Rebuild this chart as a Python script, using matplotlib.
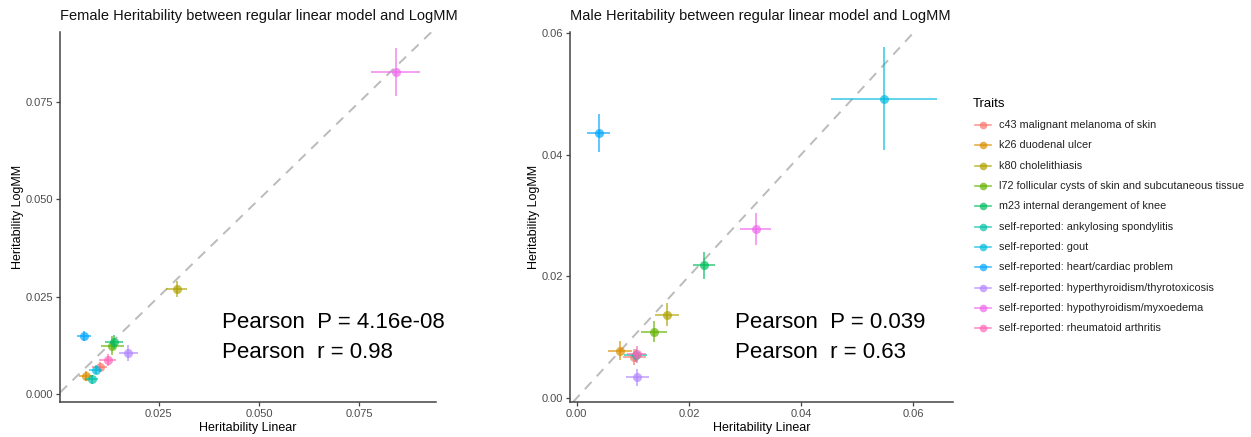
import matplotlib
matplotlib.use("Agg")
import matplotlib.pyplot as plt
from matplotlib.lines import Line2D

plt.rcParams['font.family'] = ['Liberation Sans', 'DejaVu Sans']

traits = ["c43 malignant melanoma of skin", "k26 duodenal ulcer", "k80 cholelithiasis",
          "l72 follicular cysts of skin and subcutaneous tissue", "m23 internal derangement of knee",
          "self-reported: ankylosing spondylitis", "self-reported: gout",
          "self-reported: heart/cardiac problem", "self-reported: hyperthyroidism/thyrotoxicosis",
          "self-reported: hypothyroidism/myxoedema", "self-reported: rheumatoid arthritis"]
colors = ["#F8766D", "#DB8E00", "#AEA200", "#64B200", "#00BD5C", "#00C1A7",
          "#00BADE", "#00A6FF", "#B385FF", "#EF67EB", "#FF63B6"]

# Female
f_lin = [0.0103, 0.0069, 0.0295, 0.0135, 0.0139, 0.0083, 0.0093, 0.0064, 0.0175, 0.0841, 0.0123]
f_log = [0.0070, 0.0046, 0.0270, 0.0125, 0.0133, 0.0038, 0.0063, 0.0150, 0.0106, 0.0827, 0.0088]
f_lin_se = [0.0018, 0.0017, 0.0027, 0.0028, 0.0022, 0.0016, 0.0017, 0.0018, 0.0024, 0.0061, 0.0022]
f_log_se = [0.0012, 0.0013, 0.0020, 0.0025, 0.0018, 0.0012, 0.0012, 0.0013, 0.0020, 0.0062, 0.0015]

# Male
m_lin = [0.0103, 0.0077, 0.0161, 0.01375, 0.0227, 0.0105, 0.0548, 0.0039, 0.0108, 0.0319, 0.0107]
m_log = [0.0068, 0.0078, 0.0137, 0.0109, 0.0218, 0.0070, 0.0492, 0.0435, 0.0034, 0.0278, 0.0072]
m_lin_se = [0.0020, 0.0021, 0.0021, 0.0023, 0.0019, 0.0021, 0.0094, 0.0021, 0.0021, 0.0028, 0.0017]
m_log_se = [0.0013, 0.0015, 0.0019, 0.00175, 0.0022, 0.0011, 0.0085, 0.0031, 0.0014, 0.0026, 0.0014]

W, H = 1251, 437
fig = plt.figure(figsize=(W / 100, H / 100), dpi=100)

def fx(px):
    return px / W

def fy(py):
    return 1 - py / H

def make_panel(left, right, top, bottom, xs, ys, xe, ye, xlim, ylim, xticks, xlabels, yticks, ylabels,
               title, stat1, stat2, stat_x, ylab_x):
    ax = fig.add_axes([fx(left), fy(bottom), fx(right - left), (bottom - top) / H])
    for i in range(len(traits)):
        ax.errorbar(xs[i], ys[i], xerr=xe[i], yerr=ye[i], fmt='o', color=colors[i], alpha=0.7,
                    ms=6.5, mew=0, elinewidth=1.25, capsize=2.6, capthick=1.25, zorder=3 + i)
    ax.axline((0, 0), slope=1, color='#BBBBBB', lw=1.4, ls=(0, (5, 4)), zorder=2)
    ax.set_xlim(*xlim)
    ax.set_ylim(*ylim)
    ax.set_xticks(xticks)
    ax.set_xticklabels(xlabels)
    ax.set_yticks(yticks)
    ax.set_yticklabels(ylabels)
    for s in ['top', 'right']:
        ax.spines[s].set_visible(False)
    for s in ['left', 'bottom']:
        ax.spines[s].set_color('#444444')
        ax.spines[s].set_linewidth(1.1)
    ax.tick_params(axis='both', colors='#444444', labelcolor='#4D4D4D', labelsize=8, length=3, width=0.9, pad=2)
    fig.text(fx(left), fy(16), title, fontsize=10.5, ha='left', va='center', color='#111111')
    fig.text(fx((left + right) / 2), fy(428), "Heritability Linear", fontsize=9, ha='center', va='center')
    fig.text(fx(ylab_x), fy((top + bottom) / 2), "Heritability LogMM", fontsize=9, ha='center', va='center',
             rotation=90)
    fig.text(fx(stat_x), fy(323), stat1, fontsize=16, ha='left', va='center', color='black')
    fig.text(fx(stat_x), fy(352), stat2, fontsize=16, ha='left', va='center', color='black')
    return ax

make_panel(60, 436, 32, 402, f_lin, f_log, f_lin_se, f_log_se,
           (0.00045, 0.0941), (-0.00198, 0.09297),
           [0.025, 0.05, 0.075], ["0.025", "0.050", "0.075"],
           [0.0, 0.025, 0.05, 0.075], ["0.000", "0.025", "0.050", "0.075"],
           "Female Heritability between regular linear model and LogMM",
           "Pearson  P = 4.16e-08", "Pearson  r = 0.98", 221.5, 17.7)

make_panel(570, 953, 32, 402, m_lin, m_log, m_lin_se, m_log_se,
           (-0.0012, 0.0671), (-0.00066, 0.06016),
           [0.0, 0.02, 0.04, 0.06], ["0.00", "0.02", "0.04", "0.06"],
           [0.0, 0.02, 0.04, 0.06], ["0.00", "0.02", "0.04", "0.06"],
           "Male Heritability between regular linear model and LogMM",
           "Pearson  P = 0.039", "Pearson  r = 0.63", 735, 534.3)

# Legend
fig.text(fx(973), fy(104), "Traits", fontsize=9.5, ha='left', va='center')
y0, dy = 125, 20.33
for i, (t, c) in enumerate(zip(traits, colors)):
    yy = fy(y0 + i * dy)
    fig.add_artist(Line2D([fx(975), fx(991)], [yy, yy], color=c, alpha=0.7, lw=1.2,
                          transform=fig.transFigure))
    fig.add_artist(Line2D([fx(983)], [yy], marker='o', ms=5.5, mew=0, color=c, alpha=0.7,
                          transform=fig.transFigure))
    fig.text(fx(999), yy, t, fontsize=7.85, ha='left', va='center', color='#222222')

fig.savefig("out.png", dpi=100)
